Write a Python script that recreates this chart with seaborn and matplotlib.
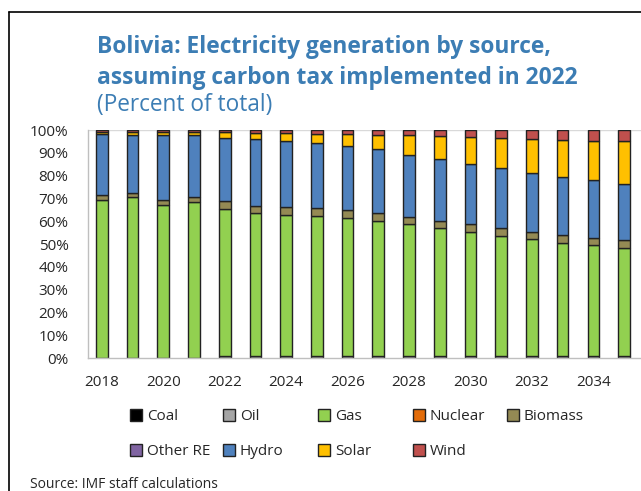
import numpy as np
import pandas as pd
import matplotlib
matplotlib.use("Agg")
import matplotlib.pyplot as plt
import seaborn as sns
from matplotlib.patches import Patch
from matplotlib.lines import Line2D

sns.set_style("white")
plt.rcParams['font.family'] = ['Open Sans', 'DejaVu Sans']

years = [str(y) for y in range(2018, 2036)]
coal = [0.0] * 18
oil = [0, 0, 0, 0, 0.7, 0.7, 0.7, 0.7, 0.7, 0.7, 0.7, 0.7, 0.7, 0.7, 0.7, 0.7, 0.7, 0.7]
gas = [69.3, 70.5, 67.1, 68.4, 64.8, 62.8, 62.2, 61.6, 60.8, 59.5, 57.9, 56.2, 54.6, 52.8, 51.3, 49.9, 48.9, 47.7]
nuclear = [0.0] * 18
biomass = [2.3, 2.0, 2.2, 2.1, 3.5, 3.2, 3.5, 3.5, 3.4, 3.3, 3.2, 3.3, 3.3, 3.4, 3.4, 3.3, 3.0, 3.2]
other_re = [0.0] * 18
hydro = [26.6, 25.5, 28.4, 27.5, 27.6, 29.2, 28.8, 28.4, 28.1, 28.0, 27.4, 26.9, 26.6, 26.3, 25.9, 25.6, 25.3, 24.7]
solar = [1.1, 1.3, 1.3, 1.2, 2.5, 2.6, 3.3, 4.0, 5.2, 6.4, 8.5, 10.3, 11.6, 13.3, 14.9, 16.1, 17.3, 18.9]
wind = [0.7, 0.7, 1.0, 0.8, 0.9, 1.5, 1.5, 1.8, 1.8, 2.1, 2.3, 2.6, 3.2, 3.5, 3.8, 4.4, 4.8, 4.8]

sources = ["Coal", "Oil", "Gas", "Nuclear", "Biomass", "Other RE", "Hydro", "Solar", "Wind"]
values = [coal, oil, gas, nuclear, biomass, other_re, hydro, solar, wind]
colors = ["#000000", "#A5A5A5", "#92D050", "#E36C09", "#948A54", "#8064A2", "#4F81BD", "#FFC000", "#C0504D"]

W, H = 641, 491
fig = plt.figure(figsize=(W / 100, H / 100), dpi=100)
ax = fig.add_axes([88 / W, (H - 358) / H, (W - 88) / W, (358 - 130) / H])

bottom = np.zeros(len(years))
for name, vals, col in zip(sources, values, colors):
    vals = np.array(vals, dtype=float)
    if vals.sum() > 0:
        sns.barplot(x=years, y=vals, bottom=bottom, color=col, width=0.38,
                    edgecolor="#222222", linewidth=1.0, ax=ax, saturation=1)
    bottom = bottom + vals

ax.set_xlim(-0.45, len(years) - 0.45)
ax.set_ylim(0, 100)
ax.set_yticks(np.arange(0, 101, 10))
ax.set_yticklabels([f"{v}%" for v in range(0, 101, 10)], fontsize=11)
ax.set_xticks(range(0, len(years), 2))
ax.set_xticklabels(years[::2], fontsize=11)
ax.set_xticks(np.arange(0.5, len(years) - 0.5, 1), minor=True)
ax.tick_params(axis="x", which="major", length=0, pad=12)
ax.tick_params(axis="x", which="minor", length=4, direction="in", color="#BFBFBF")
ax.tick_params(axis="y", length=3, color="#BFBFBF", pad=11)
for s in ["top", "right"]:
    ax.spines[s].set_visible(False)
for s in ["left", "bottom"]:
    ax.spines[s].set_color("#BFBFBF")
    ax.spines[s].set_linewidth(1)
ax.axhline(100, color="#D9D9D9", lw=1, zorder=0)
ax.set_xlabel("")
ax.set_ylabel("")

# Title
tcol = "#3C7DB4"
fig.text(97 / W, 1 - 47 / H, "Bolivia: Electricity generation by source,", color=tcol,
         fontsize=16.4, fontweight="bold", va="center", ha="left")
fig.text(97 / W, 1 - 78 / H, "assuming carbon tax implemented in 2022", color=tcol,
         fontsize=16.4, fontweight="bold", va="center", ha="left")
fig.text(97 / W, 1 - 105 / H, "(Percent of total)", color=tcol,
         fontsize=16.3, va="center", ha="left")

# Legend: columns
col_x = [130, 223, 318, 413, 507]
rows = [["Coal", "Other RE"], ["Oil", "Hydro"], ["Gas", "Solar"], ["Nuclear", "Wind"], ["Biomass"]]
cmap = dict(zip(sources, colors))
for x, names in zip(col_x, rows):
    handles = [Patch(facecolor=cmap[n], edgecolor="#222222", linewidth=1) for n in names]
    fig.legend(handles, names, loc="upper left", bbox_to_anchor=(x / W, 1 - 409 / H),
               frameon=False, fontsize=11, handlelength=0.8, handleheight=0.8,
               handletextpad=0.3, labelspacing=1.3, borderpad=0, borderaxespad=0)

fig.text(30 / W, 1 - 485 / H, "Source: IMF staff calculations", fontsize=10, va="center", ha="left")

# Border
fig.add_artist(Line2D([9 / W, 9 / W], [0, 1 - 12 / H], color="black", lw=1.2, transform=fig.transFigure))
fig.add_artist(Line2D([9 / W, 1], [1 - 12 / H, 1 - 12 / H], color="black", lw=1.2, transform=fig.transFigure))

fig.savefig("out.png", dpi=100)
